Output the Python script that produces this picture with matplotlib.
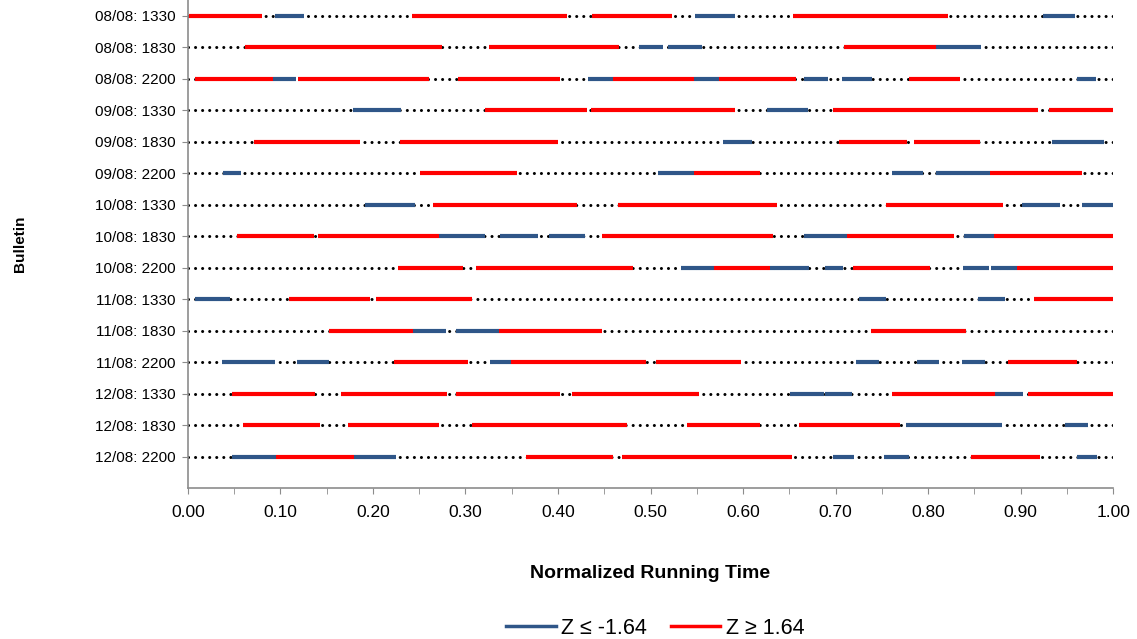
import matplotlib
matplotlib.use("Agg")
import matplotlib.pyplot as plt
from matplotlib.lines import Line2D

plt.rcParams['font.family'] = ['Liberation Sans', 'DejaVu Sans']

# bulletins, top to bottom
bulletins = ["08/08: 1330", "08/08: 1830", "08/08: 2200",
             "09/08: 1330", "09/08: 1830", "09/08: 2200",
             "10/08: 1330", "10/08: 1830", "10/08: 2200",
             "11/08: 1330", "11/08: 1830", "11/08: 2200",
             "12/08: 1330", "12/08: 1830", "12/08: 2200"]

# intervals with Z <= -1.64 (start, end) in normalized running time
low_z = [
    [(0.094, 0.125), (0.548, 0.591), (0.924, 0.959)],
    [(0.487, 0.514), (0.519, 0.556), (0.809, 0.857)],
    [(0.092, 0.117), (0.432, 0.459), (0.547, 0.574), (0.666, 0.692), (0.707, 0.739), (0.961, 0.982)],
    [(0.178, 0.230), (0.626, 0.670)],
    [(0.578, 0.610), (0.934, 0.967), (0.967, 0.990)],
    [(0.038, 0.057), (0.508, 0.547), (0.761, 0.794), (0.809, 0.867)],
    [(0.191, 0.245), (0.901, 0.943), (0.966, 1.000)],
    [(0.271, 0.321), (0.337, 0.378), (0.390, 0.429), (0.666, 0.712), (0.839, 0.871)],
    [(0.533, 0.569), (0.629, 0.671), (0.689, 0.708), (0.838, 0.866), (0.868, 0.896)],
    [(0.008, 0.045), (0.725, 0.755), (0.854, 0.883)],
    [(0.243, 0.279), (0.290, 0.336)],
    [(0.037, 0.094), (0.118, 0.152), (0.327, 0.349), (0.722, 0.747), (0.788, 0.812), (0.837, 0.861)],
    [(0.651, 0.688), (0.689, 0.718), (0.872, 0.903)],
    [(0.776, 0.824), (0.824, 0.880), (0.948, 0.973)],
    [(0.048, 0.095), (0.179, 0.225), (0.697, 0.720), (0.752, 0.779), (0.961, 0.983)],
]

# intervals with Z >= 1.64
high_z = [
    [(0.001, 0.080), (0.242, 0.410), (0.437, 0.523), (0.654, 0.821)],
    [(0.062, 0.275), (0.325, 0.466), (0.709, 0.809)],
    [(0.008, 0.092), (0.119, 0.261), (0.292, 0.402), (0.459, 0.547), (0.574, 0.657), (0.779, 0.835)],
    [(0.321, 0.431), (0.436, 0.591), (0.697, 0.919), (0.931, 1.000)],
    [(0.071, 0.186), (0.229, 0.400), (0.704, 0.777), (0.785, 0.856)],
    [(0.251, 0.356), (0.547, 0.618), (0.867, 0.966)],
    [(0.265, 0.420), (0.465, 0.637), (0.754, 0.881)],
    [(0.053, 0.136), (0.141, 0.271), (0.448, 0.632), (0.712, 0.828), (0.871, 1.000)],
    [(0.227, 0.297), (0.311, 0.391), (0.391, 0.481), (0.569, 0.629), (0.719, 0.802), (0.896, 1.000)],
    [(0.109, 0.197), (0.203, 0.307), (0.915, 1.000)],
    [(0.152, 0.243), (0.336, 0.447), (0.738, 0.841)],
    [(0.223, 0.303), (0.349, 0.495), (0.506, 0.598), (0.886, 0.961)],
    [(0.048, 0.137), (0.165, 0.280), (0.290, 0.402), (0.415, 0.552), (0.761, 0.872), (0.908, 1.000)],
    [(0.060, 0.143), (0.173, 0.271), (0.307, 0.475), (0.539, 0.618), (0.660, 0.770)],
    [(0.095, 0.179), (0.365, 0.459), (0.469, 0.653), (0.846, 0.921)],
]

blue = "#2f5688"
red = "#ff0000"

fig = plt.figure(figsize=(11.37, 6.39), dpi=100)
ax = fig.add_axes([0.1653, 0.2363, 0.8137, 0.7637])

for i, name in enumerate(bulletins):
    y = i + 1
    base, = ax.plot([0, 1], [y, y], color="black", lw=2.2,
                    linestyle=(0, (0.01, 2.3)), zorder=1)
    base.set_dash_capstyle("round")
    for s, e in low_z[i]:
        ax.plot([s, e], [y, y], color=blue, lw=3, solid_capstyle="butt", zorder=2)
    for s, e in high_z[i]:
        ax.plot([s, e], [y, y], color=red, lw=3, solid_capstyle="butt", zorder=2)

ax.set_xlim(0, 1)
ax.set_ylim(16, 0.5)
ax.set_yticks(range(1, len(bulletins) + 1))
ax.set_yticklabels(bulletins)
ax.set_xticks([i / 10 for i in range(11)])
ax.set_xticks([i / 20 for i in range(1, 20, 2)], minor=True)
ax.set_xticklabels(["%.2f" % (i / 10) for i in range(11)])

for sp in ["top", "right"]:
    ax.spines[sp].set_visible(False)
for sp in ["left", "bottom"]:
    ax.spines[sp].set_color("#8c8c8c")
    ax.spines[sp].set_linewidth(1.2)

ax.tick_params(axis="x", which="both", direction="out", length=4, color="#8c8c8c",
               labelsize=12.5, pad=8.5)
ax.tick_params(axis="y", direction="out", length=4, color="#8c8c8c", labelsize=11, pad=5)

ax.set_xlabel("Normalized Running Time", fontsize=14, fontweight="bold")
ax.xaxis.set_label_coords(0.5, -0.176)
ax.xaxis.label.set_va("center")
ax.set_ylabel("Bulletin", fontsize=11, fontweight="bold")
ax.yaxis.set_label_coords(-0.182, 0.5)
ax.yaxis.label.set_va("center")

handles = [Line2D([], [], color=blue, lw=2.5), Line2D([], [], color=red, lw=2.5)]
fig.legend(handles, ["Z \u2264 -1.64", "Z \u2265 1.64"], loc="center",
           bbox_to_anchor=(0.5765, 0.017), ncol=2, frameon=False, fontsize=15.5,
           handlelength=2.3, handletextpad=0.25, columnspacing=1.1)

plt.savefig("out.png", dpi=100)
